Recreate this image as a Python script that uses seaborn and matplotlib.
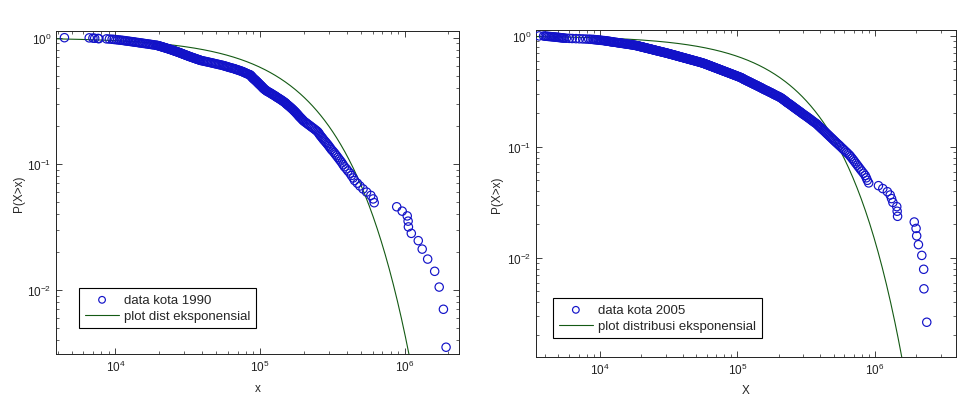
import matplotlib
matplotlib.use("Agg")
import matplotlib.pyplot as plt
import numpy as np
import pandas as pd
import seaborn as sns
from matplotlib.ticker import NullFormatter

# city sizes in thousands, largest first
kota_1990 = [
    1930, 1850, 1730, 1610, 1440, 1320, 1240, 1110, 1060, 1055, 1040, 960, 880,
    615, 605, 583, 545, 515, 490, 470, 450,
    440, 428, 418, 405, 395, 383,
    375, 368, 360, 352, 345, 338, 331, 325, 318, 311,
    306, 301, 296, 291, 286, 281, 276, 272, 268, 264, 260, 257, 254, 251,
    246, 241, 236, 231, 226, 222, 217, 213, 209, 205, 201, 198, 196, 193,
    191, 188, 186, 184, 182, 180, 178, 176, 174, 172, 170, 168, 166, 164,
    162, 160, 158, 156, 154, 152, 151, 149, 147,
    145, 143, 141, 139, 137, 135, 133, 131, 129, 128, 126, 124, 122, 121,
    119, 117, 116, 114, 112, 111, 110, 108.5, 107.5,
    106.5, 105.5, 105, 104, 103.5, 102.5, 102, 101, 100.5, 99.5, 99, 98, 97.5, 97,
    96, 95.5, 95, 94, 93.5, 93, 92, 91.5, 91, 90, 89.5, 89, 88.5, 88, 87.5,
    87, 86.5, 86, 85.5, 85,
    83.5, 82, 81, 80, 79, 78, 77, 76, 75, 74, 72.5, 71.5, 70.5, 69, 68,
    67, 66, 64.5, 63.5, 62, 61, 60, 59, 58, 57, 56,
    55, 53.8, 52.6, 51.5, 50.4, 49.3, 48.3, 47.3, 46.3, 45.3, 44.3, 43.4,
    42.5, 41.6, 40.7, 39.8, 39,
    38.5, 38, 37.5, 37, 36.5, 36, 35.6, 35.1, 34.7, 34.3, 33.8, 33.4, 33, 32.6,
    32.2, 31.9, 31.5, 31.2, 30.8, 30.5, 30.2, 29.8, 29.5, 29.2, 28.9, 28.6,
    28.3, 28, 27.7, 27.4, 27.1, 26.8, 26.5, 26.2, 25.9, 25.6, 25.3, 25.1,
    24.8, 24.5, 24.3, 24, 23.7, 23.4, 23.2, 22.9,
    22.6, 22.4, 22.1, 21.8, 21.6, 21.3, 21.1, 20.8, 20.6, 20.3, 20.1, 19.8,
    19.6, 19.3,
    18.9, 18.4, 18, 17.6, 17.2, 16.8, 16.4, 16, 15.6, 15.3, 14.9, 14.6, 14.3,
    13.9, 13.6, 13.3, 13, 12.7, 12.4, 12.1, 11.8, 11.6, 11.3,
    11.0, 10.7, 10.4, 10.1, 9.8, 9.5,
    9.1, 8.7, 7.7, 7.6, 7.2, 7.0, 6.6,
    4.45,
]

kota_2005 = [
    2380, 2270, 2260, 2190, 2070, 2010, 1990, 1930, 1460, 1450, 1440, 1350,
    1320, 1290, 1230, 1140, 1060,
    900, 880, 865,
    849, 825, 802, 781, 762, 744, 727, 711, 696, 681, 667,
    653, 637, 621, 606, 591, 578, 565, 553, 541, 529, 518, 508, 498, 489, 480,
    471, 463, 455, 447, 440, 433, 426, 419, 412, 406, 400, 394, 388, 383,
    378, 371, 364, 358, 352, 346, 341, 336, 330, 325,
    320, 315, 310, 305, 300, 296, 292, 288, 284, 280,
    276, 272, 269, 265, 262, 258, 255, 252, 249, 246,
    243, 240, 237, 234, 231, 228, 226, 224, 221, 219,
    217, 214, 212, 210, 207, 205,
    202, 199, 196, 193, 190, 187, 185, 182, 180,
    178, 175, 173, 170, 168, 166, 164, 161, 159, 157,
    155, 153, 151, 150, 148, 146, 144, 142.5, 141, 139,
    137.5, 136, 134, 132.5, 131, 129.5, 128, 126.5, 125, 124,
    122.5, 121, 119.5, 118, 117, 116, 114.5, 113, 112, 111,
    110, 109, 108, 107, 106,
    104.6, 103.3, 102, 100.7, 99.4, 98.2, 97, 95.7, 94.5, 93.3,
    92.2, 91.1, 90, 88.9, 87.8, 86.8, 85.8, 84.8, 83.7, 82.7,
    81.8, 80.8, 79.9, 78.9, 78, 77.2, 76.3, 75.5, 74.6, 73.8,
    73, 72.2, 71.4, 70.6, 69.8, 69.1, 68.4, 67.6, 66.9, 66.2,
    65.5, 64.8, 64.2, 63.5, 62.8, 62.2, 61.6, 61, 60.3, 59.7,
    59.1, 58.5, 58, 57.4, 56.8,
    56.1, 55.4, 54.8, 54.1, 53.4, 52.7, 52, 51.4, 50.7, 50,
    49.4, 48.8, 48.1, 47.5, 46.9, 46.3, 45.7, 45.1, 44.6, 44,
    43.5, 43, 42.4, 41.9, 41.4, 40.9, 40.4, 39.9, 39.4, 38.9,
    38.5, 38, 37.6, 37.1, 36.7, 36.3, 35.9, 35.5, 35.1, 34.7,
    34.3, 33.9, 33.5, 33.1, 32.7,
    32.3, 32, 31.6, 31.3, 30.9, 30.5, 30.2, 29.8, 29.5, 29.1,
    28.8, 28.4, 28.1, 27.7, 27.4, 27.1, 26.8, 26.4, 26.1, 25.8,
    25.5, 25.2, 25, 24.7, 24.4, 24.1, 23.9, 23.6, 23.4, 23.1,
    22.8, 22.6, 22.3, 22.1, 21.8, 21.6, 21.4, 21.1, 20.9, 20.7,
    20.5, 20.3, 20, 19.8, 19.6, 19.4, 19.2, 19, 18.8, 18.6,
    18.3, 18.1, 17.8, 17.6, 17.3, 17, 16.7, 16.5, 16.2, 15.9,
    15.6, 15.4, 15.1, 14.9, 14.6, 14.4, 14.2, 13.9, 13.7, 13.5,
    13.3, 13.1, 12.8, 12.6, 12.4, 12.2, 12, 11.9, 11.7, 11.5,
    11.3, 11.1, 11, 10.8, 10.6,
    10.3, 10.1, 9.9, 9.7, 9.5, 9.3, 9.1, 8.9, 8.6, 8.3,
    7.9, 7.5, 7.1, 6.7, 6.3, 6.0, 5.7,
    5.5, 5.4, 5.3, 5.2, 5.1, 5.0, 4.9, 4.8, 4.7, 4.6, 4.5, 4.4, 4.3, 4.2,
    4.1, 4.0, 3.9,
    3.62,
]

# mean of the fitted exponential, thousands
mean_1990 = 185.0
mean_2005 = 235.0

data_labels = ["data kota 1990", "data kota 2005"]
fit_labels = ["plot dist eksponensial", "plot distribusi eksponensial"]
x_labels = ["x", "X"]

BLUE = "#1212c8"
GREEN = "#145a14"


def ccdf(sizes):
    x = np.sort(np.asarray(sizes, dtype=float) * 1000.0)[::-1]
    p = np.arange(1, len(x) + 1) / len(x)
    return pd.DataFrame({"x": x, "p": p})


sns.set_style("ticks", {"xtick.direction": "in", "ytick.direction": "in"})
plt.rcParams["font.family"] = ["Liberation Sans", "DejaVu Sans"]
plt.rcParams["axes.linewidth"] = 0.7
plt.rcParams["axes.edgecolor"] = "#222222"

fig = plt.figure(figsize=(9.72, 4.02), dpi=100)
ax1 = fig.add_axes([0.0576, 0.1169, 0.4146, 0.8035])
ax2 = fig.add_axes([0.5514, 0.1095, 0.4321, 0.8134])

panels = [
    (ax1, kota_1990, mean_1990, (3.89e3, 2.37e6), (3.1e-3, 1.13), (0.057, 0.204), (-0.077, 0.5), -0.087),
    (ax2, kota_2005, mean_2005, (3.43e3, 3.88e6), (1.28e-3, 1.13), (0.040, 0.180), (-0.079, 0.5), -0.083),
]

for i, (ax, sizes, mu, xlim, ylim, leg_pos, ylab_pos, xlab_y) in enumerate(panels):
    ax.set_xscale("log")
    ax.set_yscale("log")
    df = ccdf(sizes)
    sns.scatterplot(data=df, x="x", y="p", ax=ax, marker="o", s=36,
                    facecolor="none", edgecolor=BLUE, linewidth=0.85,
                    label=data_labels[i], zorder=3)
    xs = np.logspace(np.log10(xlim[0]), np.log10(xlim[1]), 400)
    fit = pd.DataFrame({"x": xs, "p": np.exp(-xs / (mu * 1000.0))})
    sns.lineplot(data=fit, x="x", y="p", ax=ax, color=GREEN, linewidth=0.8,
                 label=fit_labels[i], zorder=2)

    ax.set_xlim(*xlim)
    ax.set_ylim(*ylim)
    ax.xaxis.set_minor_formatter(NullFormatter())
    ax.yaxis.set_minor_formatter(NullFormatter())
    ax.tick_params(which="both", direction="in", top=True, right=True,
                   labelsize=8.5, colors="#222222")
    ax.tick_params(which="major", length=4, width=0.6)
    ax.tick_params(which="minor", length=2.2, width=0.5)
    for sp in ax.spines.values():
        sp.set_visible(True)

    ax.set_xlabel(x_labels[i], fontsize=8.5)
    ax.set_ylabel("P(X>x)", fontsize=8.5)
    ax.xaxis.set_label_coords(0.5, xlab_y)
    ax.yaxis.set_label_coords(*ylab_pos)

    leg = ax.legend(loc="upper left", bbox_to_anchor=leg_pos, fontsize=9.5,
                    frameon=True, fancybox=False, edgecolor="black",
                    framealpha=1, handlelength=2.6, handletextpad=0.35,
                    borderpad=0.45, labelspacing=0.3, borderaxespad=0,
                    markerscale=0.8)
    leg.get_frame().set_linewidth(0.8)

fig.savefig("out.png", dpi=100)
